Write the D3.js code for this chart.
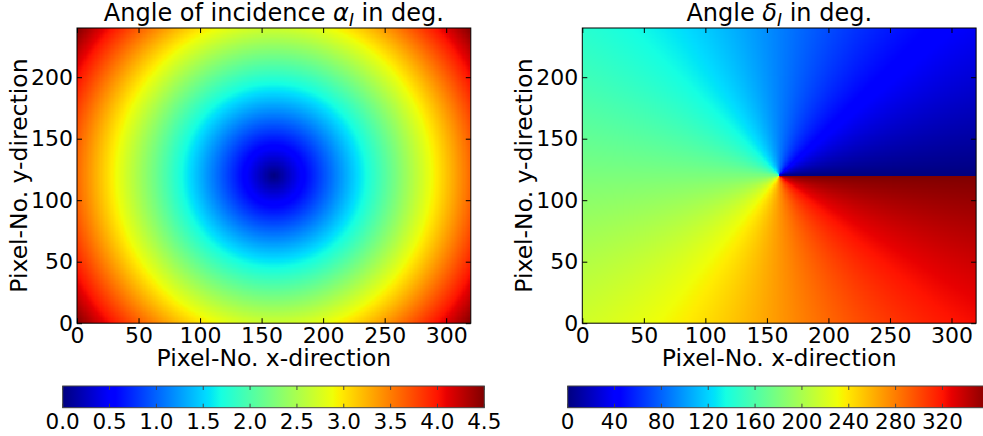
<!DOCTYPE html>
<html lang="en">
<head>
    <meta charset="UTF-8">
    <title>Angle of incidence / Angle delta</title>
    <script src="https://d3js.org/d3.v7.min.js"></script>
    <style>
        body {
            margin: 0;
            background-color: white;
            font-family: 'DejaVu Sans', sans-serif;
        }
        svg text {
            fill: #000;
        }
        .tick line {
            stroke: #000;
        }
    </style>
</head>
<body>
    <div id="chart"></div>

    <script>
        // Sensor grid (pixels) and optical centre
        const nCols = 320;
        const nRows = 240;
        const opticalCenter = [160, 120];
        const cornerAngle = 4.5; // deg, angle of incidence at the sensor corner

        // Axis ticks
        const xTicks = [0, 50, 100, 150, 200, 250, 300];
        const yTicks = [0, 50, 100, 150, 200];
        const alphaTicks = [0.0, 0.5, 1.0, 1.5, 2.0, 2.5, 3.0, 3.5, 4.0, 4.5];
        const deltaTicks = [0, 40, 80, 120, 160, 200, 240, 280, 320];
        const alphaDomain = [0, 4.5];
        const deltaDomain = [0, 360];

        // matplotlib "jet" colormap segments
        const jetRed = [[0, 0], [0.35, 0], [0.66, 1], [0.89, 1], [1, 0.5]];
        const jetGreen = [[0, 0], [0.125, 0], [0.375, 1], [0.64, 1], [0.91, 0], [1, 0]];
        const jetBlue = [[0, 0.5], [0.11, 1], [0.34, 1], [0.65, 0], [1, 0]];
        const jetStops = [0, 0.11, 0.125, 0.34, 0.35, 0.375, 0.64, 0.65, 0.66, 0.89, 0.91, 1];

        const channel = seg => d3.scaleLinear()
            .domain(seg.map(d => d[0]))
            .range(seg.map(d => d[1]))
            .clamp(true);
        const jr = channel(jetRed), jg = channel(jetGreen), jb = channel(jetBlue);
        const jet = t => [jr(t), jg(t), jb(t)].map(v => Math.round(v * 255));
        const jetCss = t => `rgb(${jet(t).join(",")})`;

        // Fields on the sensor grid
        const kScale = Math.tan(cornerAngle * Math.PI / 180) /
            Math.hypot(opticalCenter[0], opticalCenter[1]);
        const alphaAt = (x, y) => Math.atan(Math.hypot(x - opticalCenter[0], y - opticalCenter[1]) * kScale) * 180 / Math.PI;
        const deltaAt = (x, y) => {
            let a = Math.atan2(y - opticalCenter[1], x - opticalCenter[0]) * 180 / Math.PI;
            return a < 0 ? a + 360 : a;
        };

        const width = 983, height = 436;
        const panels = [
            {
                left: 77, field: alphaAt, domain: alphaDomain, cbTicks: alphaTicks,
                cbFormat: d3.format(".1f"), cbLeft: 62.7,
                title: ["Angle of incidence ", "α", "I", " in deg."]
            },
            {
                left: 582.3, field: deltaAt, domain: deltaDomain, cbTicks: deltaTicks,
                cbFormat: d3.format("d"), cbLeft: 567.7,
                title: ["Angle ", "δ", "I", " in deg."]
            }
        ];
        const plotTop = 28, plotW = 393.8, plotH = 295.2;
        const cbTop = 386, cbH = 21.7, cbW = 421.6;

        const svg = d3.select("#chart")
            .append("svg")
            .attr("width", width)
            .attr("height", height);

        svg.append("rect").attr("width", width).attr("height", height).attr("fill", "white");

        const defs = svg.append("defs");
        const grad = defs.append("linearGradient").attr("id", "jet")
            .attr("x1", "0%").attr("x2", "100%").attr("y1", "0%").attr("y2", "0%");
        jetStops.forEach(s => grad.append("stop")
            .attr("offset", `${s * 100}%`)
            .attr("stop-color", jetCss(s)));

        panels.forEach(p => {
            const x = d3.scaleLinear().domain([0, nCols]).range([p.left, p.left + plotW]);
            const y = d3.scaleLinear().domain([0, nRows]).range([plotTop + plotH, plotTop]);
            const color = d3.scaleLinear().domain(p.domain).range([0, 1]).clamp(true);

            // raster of cells, one canvas pixel per sensor pixel
            const canvas = document.createElement("canvas");
            canvas.width = nCols;
            canvas.height = nRows;
            const ctx = canvas.getContext("2d");
            const img = ctx.createImageData(nCols, nRows);
            for (let r = 0; r < nRows; r++) {
                const yy = nRows - 1 - r + 0.5;
                for (let c = 0; c < nCols; c++) {
                    const rgb = jet(color(p.field(c + 0.5, yy)));
                    const i = (r * nCols + c) * 4;
                    img.data[i] = rgb[0];
                    img.data[i + 1] = rgb[1];
                    img.data[i + 2] = rgb[2];
                    img.data[i + 3] = 255;
                }
            }
            ctx.putImageData(img, 0, 0);

            const g = svg.append("g");
            g.append("image")
                .attr("href", canvas.toDataURL())
                .attr("x", x(0))
                .attr("y", y(nRows))
                .attr("width", x(nCols) - x(0))
                .attr("height", y(0) - y(nRows))
                .attr("preserveAspectRatio", "none")
                .style("image-rendering", "pixelated");

            // axes with inward ticks
            g.append("g")
                .attr("transform", `translate(0,${y(0)})`)
                .call(d3.axisBottom(x).tickValues(xTicks).tickSizeInner(-5).tickSizeOuter(0).tickPadding(4));
            g.append("g")
                .attr("transform", `translate(${x(0)},0)`)
                .call(d3.axisLeft(y).tickValues(yTicks).tickSizeInner(-5).tickSizeOuter(0).tickPadding(4));
            g.append("g")
                .attr("transform", `translate(0,${y(nRows)})`)
                .call(d3.axisTop(x).tickValues(xTicks).tickSizeInner(-5).tickSizeOuter(0).tickFormat(""));
            g.append("g")
                .attr("transform", `translate(${x(nCols)},0)`)
                .call(d3.axisRight(y).tickValues(yTicks).tickSizeInner(-5).tickSizeOuter(0).tickFormat(""));
            g.selectAll(".domain").remove();
            g.selectAll(".tick text")
                .style("font-family", "'DejaVu Sans'")
                .style("font-size", "22px")
                .attr("fill", "#000");
            g.selectAll(".tick line").attr("stroke", "#000");

            g.append("rect")
                .attr("x", x(0)).attr("y", y(nRows))
                .attr("width", x(nCols) - x(0)).attr("height", y(0) - y(nRows))
                .attr("fill", "none").attr("stroke", "#000").attr("stroke-width", 1);

            // title with math subscript
            const t = g.append("text")
                .attr("x", (x(0) + x(nCols)) / 2)
                .attr("y", 21)
                .attr("text-anchor", "middle")
                .style("font-size", "24px");
            t.append("tspan").text(p.title[0]);
            t.append("tspan").style("font-style", "italic").text(p.title[1]);
            t.append("tspan").style("font-style", "italic").style("font-size", "17px")
                .attr("dy", 5).text(p.title[2]);
            t.append("tspan").attr("dy", -5).text(p.title[3]);

            g.append("text")
                .attr("x", (x(0) + x(nCols)) / 2)
                .attr("y", 366)
                .attr("text-anchor", "middle")
                .style("font-size", "23.5px")
                .text("Pixel-No. x-direction");

            g.append("text")
                .attr("transform", `translate(${x(0) - 50},${(y(0) + y(nRows)) / 2}) rotate(-90)`)
                .attr("text-anchor", "middle")
                .style("font-size", "23.5px")
                .text("Pixel-No. y-direction");

            // colorbar
            const cb = d3.scaleLinear().domain(p.domain).range([p.cbLeft, p.cbLeft + cbW]);
            const cg = svg.append("g");
            cg.append("rect")
                .attr("x", cb(p.domain[0])).attr("y", cbTop)
                .attr("width", cb(p.domain[1]) - cb(p.domain[0])).attr("height", cbH)
                .attr("fill", "url(#jet)")
                .attr("stroke", "#444").attr("stroke-width", 1);
            cg.selectAll("line.cbt-top")
                .data(p.cbTicks)
                .join("line")
                .attr("x1", d => cb(d)).attr("x2", d => cb(d))
                .attr("y1", cbTop).attr("y2", cbTop + 4)
                .attr("stroke", "#444");
            cg.selectAll("line.cbt-bot")
                .data(p.cbTicks)
                .join(enter => enter.append("line"))
                .attr("x1", d => cb(d)).attr("x2", d => cb(d))
                .attr("y1", cbTop + cbH - 4).attr("y2", cbTop + cbH)
                .attr("stroke", "#444");
            cg.selectAll("text")
                .data(p.cbTicks)
                .join("text")
                .attr("x", d => cb(d))
                .attr("y", cbTop + cbH + 21)
                .attr("text-anchor", "middle")
                .style("font-size", "21.5px")
                .text(d => p.cbFormat(d));
        });
    </script>
</body>
</html>
